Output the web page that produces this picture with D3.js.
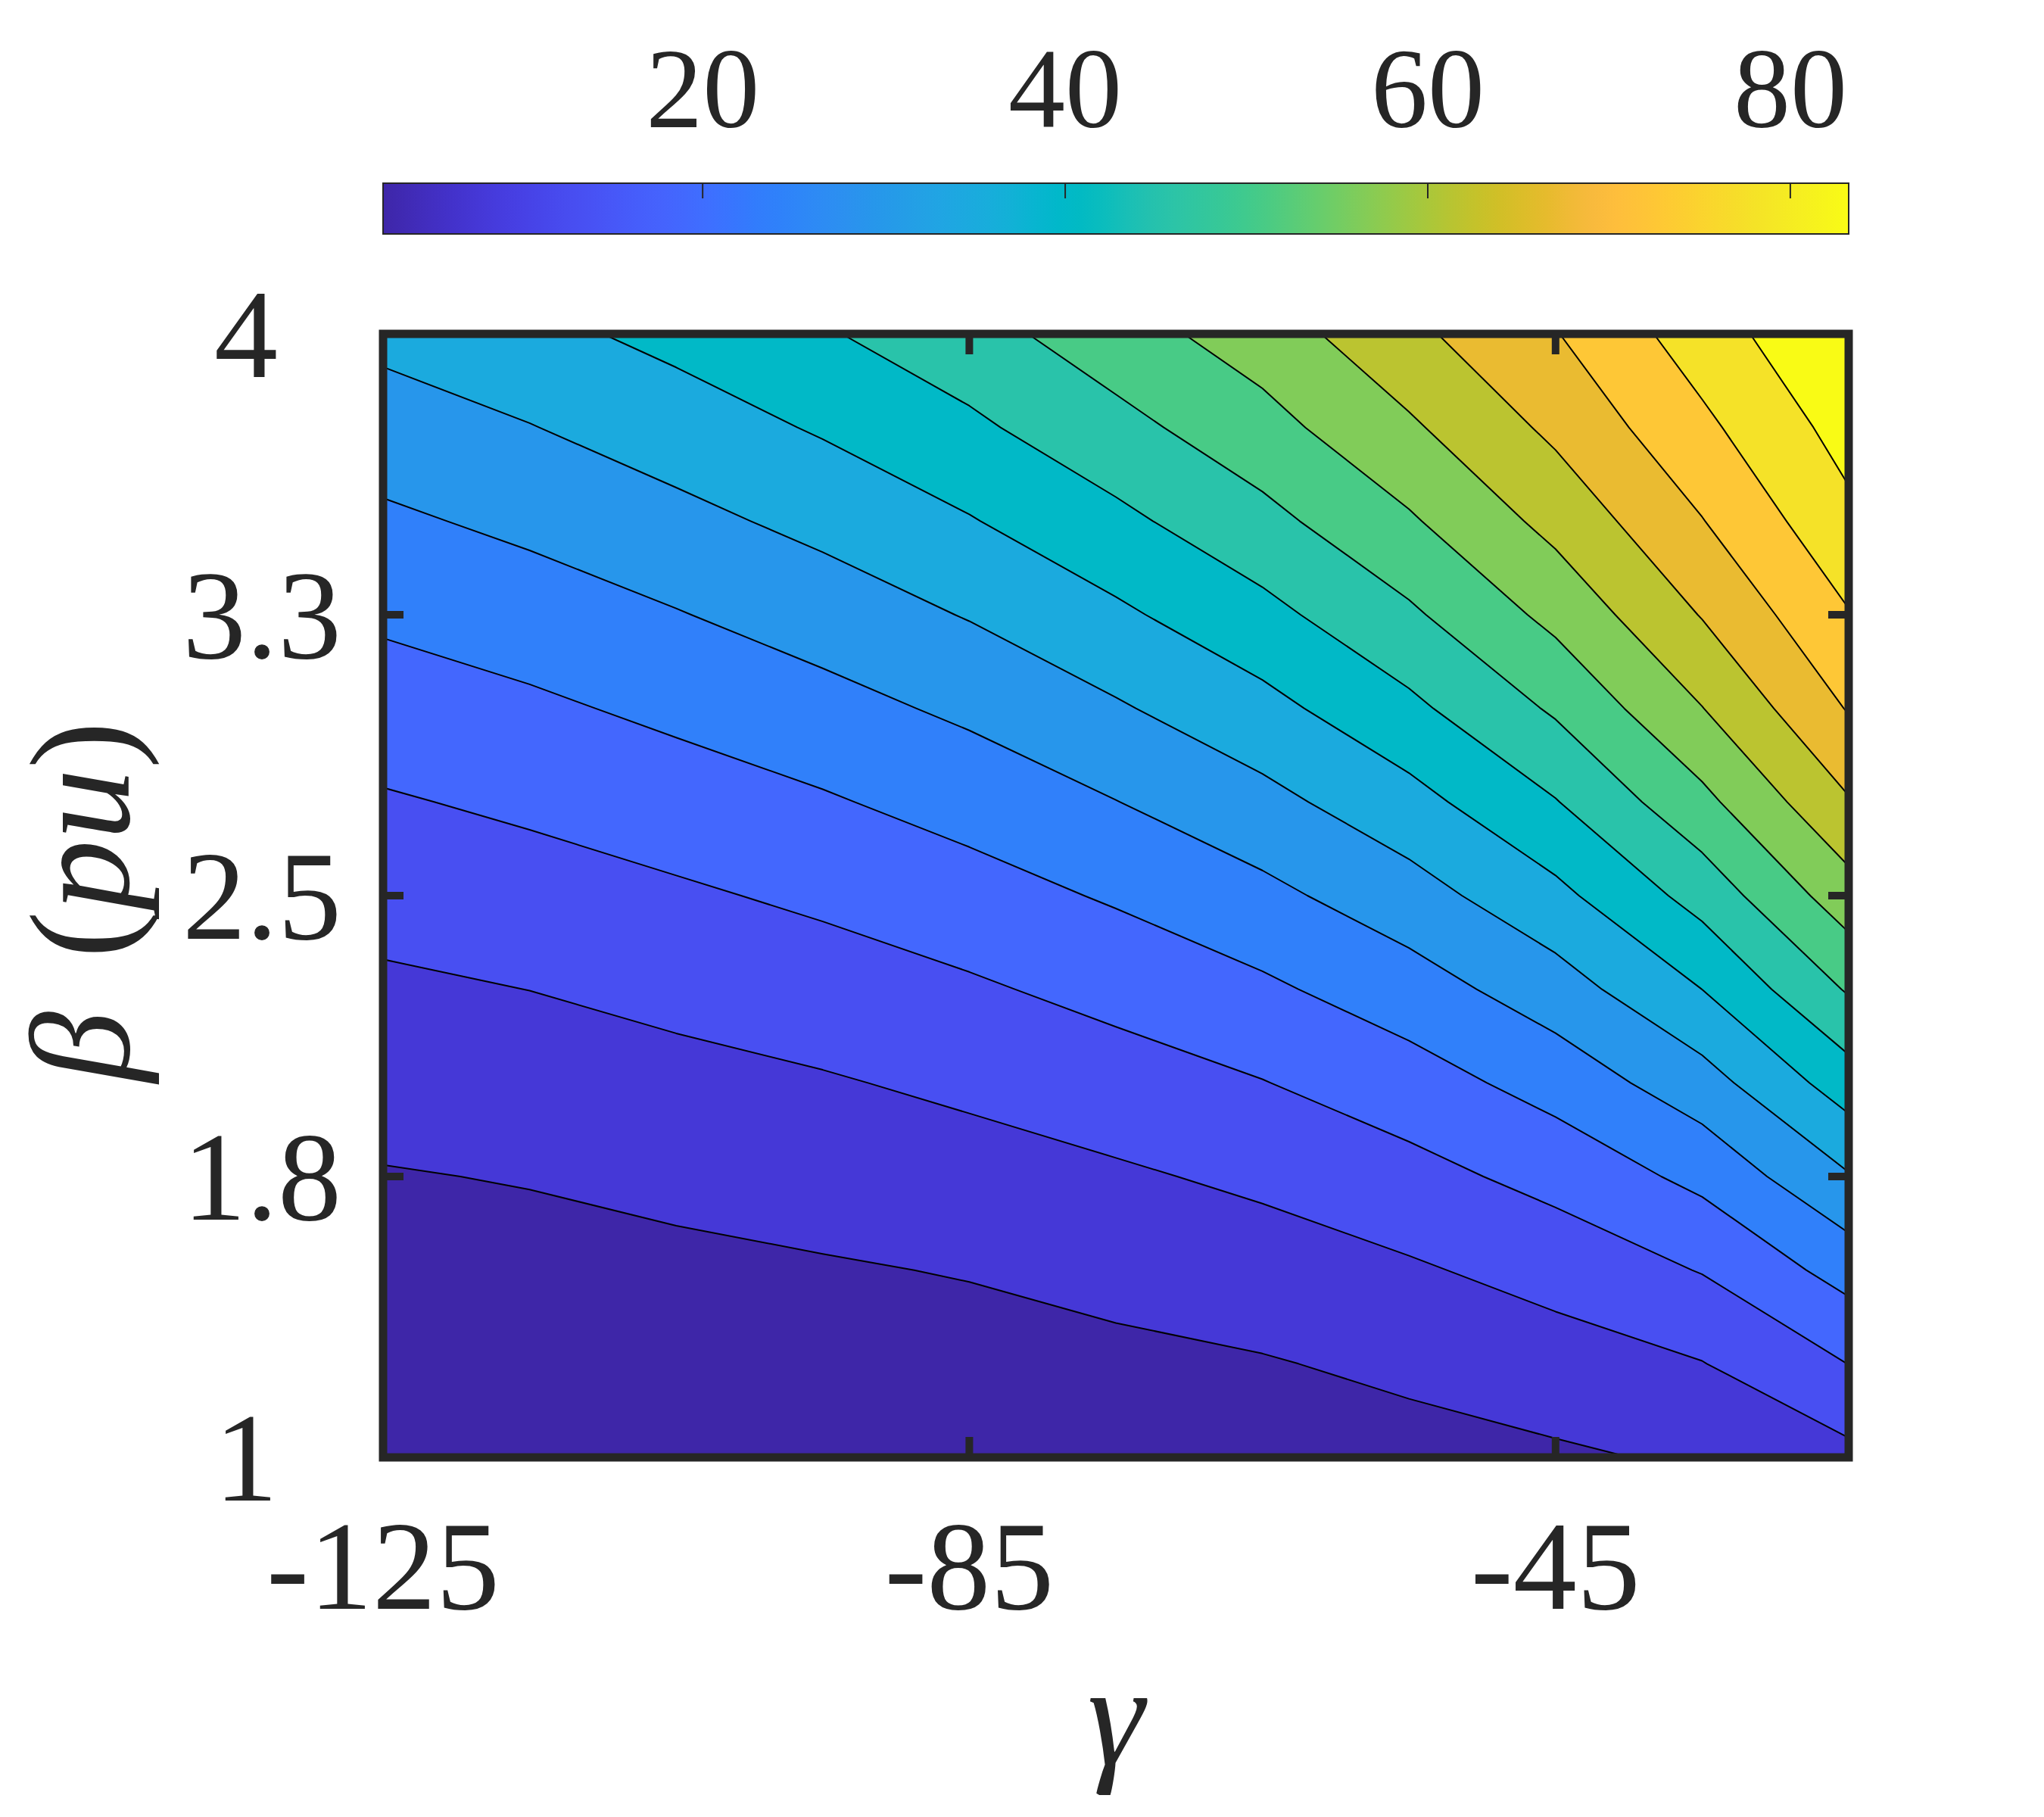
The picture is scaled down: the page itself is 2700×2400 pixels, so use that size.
<!DOCTYPE html>
<html>
<head>
<meta charset="utf-8">
<script src="https://cdn.jsdelivr.net/npm/d3@7"></script>
<style>
  html, body { margin: 0; padding: 0; background: #fff; }
  svg { display: block; }
  text { font-family: "Liberation Serif", "Times New Roman", serif; fill: #262626; }
</style>
</head>
<body>
<div class="canvas"></div>
<script>
// Grid axes
const gammaValues = [-125, -115, -105, -95, -85, -75, -65, -55, -45, -35, -25];
const betaValues = [1, 1.25, 1.5, 1.75, 2, 2.25, 2.5, 2.75, 3, 3.25, 3.5, 3.75, 4];

// One row per beta (bottom to top), one value per gamma
const zRows = [
    [2.40, 2.60, 3.00, 3.46, 3.84, 4.43, 5.08, 5.97, 7.00, 8.50, 11.70],
    [4.09, 4.38, 4.85, 5.39, 5.89, 6.61, 7.41, 8.83, 10.76, 12.97, 18.60],
    [5.78, 6.16, 6.71, 7.31, 8.03, 9.25, 10.62, 12.49, 15.05, 18.80, 26.02],
    [7.47, 8.02, 8.92, 9.90, 11.02, 12.41, 14.18, 16.77, 20.26, 25.35, 34.31],
    [9.80, 10.60, 11.60, 12.69, 14.18, 16.12, 18.36, 21.53, 26.04, 32.44, 42.91],
    [12.26, 13.19, 14.53, 15.99, 17.81, 20.16, 22.98, 26.85, 32.21, 40.12, 51.44],
    [15.05, 16.28, 17.77, 19.51, 21.76, 24.53, 27.93, 32.46, 38.69, 47.53, 59.37],
    [18.03, 19.49, 21.35, 23.37, 25.94, 29.21, 33.10, 38.23, 45.23, 54.81, 66.62],
    [21.35, 22.98, 25.10, 27.49, 30.36, 34.12, 38.44, 44.27, 51.63, 61.53, 72.82],
    [24.79, 26.68, 29.04, 31.77, 35.03, 39.13, 43.91, 49.98, 57.76, 67.34, 77.53],
    [28.39, 30.52, 33.20, 36.17, 39.76, 44.21, 49.27, 55.60, 63.32, 72.24, 81.95],
    [32.17, 34.52, 37.41, 40.66, 44.49, 49.18, 54.38, 60.83, 68.23, 76.64, 85.30],
    [36.10, 38.60, 41.60, 45.00, 48.80, 54.00, 58.90, 65.80, 72.20, 80.60, 88.60]
];

// Contour levels and colour limits
const contourLevels = [7.76, 13.15, 18.54, 23.93, 29.32, 34.71, 40.10, 45.49, 50.88, 56.27, 61.66, 67.05, 72.44, 77.83, 83.22];
const colorLimits = [2.37, 83.22];

// Ticks
const xTickValues = [-125, -85, -45];
const xTickLabels = ['-125', '-85', '-45'];
const yTickValues = [1, 1.75, 2.5, 3.25, 4];
const yTickLabels = ['1', '1.8', '2.5', '3.3', '4'];
const cbTickValues = [20, 40, 60, 80];
const cbTickLabels = ['20', '40', '60', '80'];

// parula colormap
const parula = [
    '#3e26a8', '#402ab4', '#422ec0', '#4332cb', '#4537d5', '#463cde', '#4741e5', '#4747eb',
    '#484df0', '#4852f4', '#4758f8', '#465efb', '#4563fd', '#4269fe', '#3e6fff', '#3875fe',
    '#327cfc', '#2f81fa', '#2e87f7', '#2d8cf3', '#2b91ef', '#2796eb', '#259be8', '#23a0e5',
    '#20a5e3', '#1ca9df', '#18addb', '#12b1d6', '#08b5d0', '#01b8ca', '#02bac3', '#0bbdbd',
    '#19bfb6', '#24c1ae', '#2cc4a7', '#31c69f', '#37c897', '#3fca8e', '#4acb84', '#57cc7a',
    '#64cd6f', '#72cd64', '#81cc59', '#8fcb4e', '#9dc943', '#abc739', '#b9c431', '#c5c22a',
    '#d1bf27', '#dcbd29', '#e6bb2d', '#f0ba36', '#f8ba3d', '#febe3c', '#fec338', '#fec934',
    '#fccf30', '#fad62d', '#f7dc2a', '#f5e327', '#f5e924', '#f6ef20', '#f7f51b', '#f9fb15'
];

const dims = {
    svgWidth: 2700,
    svgHeight: 2400,
    left: 506,
    right: 2442,
    top: 441,
    bottom: 1925,
    cbTop: 242,
    cbHeight: 67
};
const ink = '#262626';

const svg = d3.select('.canvas')
    .append('svg')
    .attr('width', dims.svgWidth)
    .attr('height', dims.svgHeight);

svg.append('rect')
    .attr('width', dims.svgWidth)
    .attr('height', dims.svgHeight)
    .attr('fill', '#fff');

// Scales
const x = d3.scaleLinear().domain([-125, -25]).range([dims.left, dims.right]);
const y = d3.scaleLinear().domain([1, 4]).range([dims.bottom, dims.top]);
const cb = d3.scaleLinear().domain(colorLimits).range([dims.left, dims.right]);

const colorScale = d3.scaleLinear()
    .domain(parula.map((c, i) => colorLimits[0] + i * (colorLimits[1] - colorLimits[0]) / (parula.length - 1)))
    .range(parula)
    .clamp(true);

// Contours
const nx = gammaValues.length;
const ny = betaValues.length;
const values = zRows.flat();

const bands = d3.contours()
    .size([nx, ny])
    .thresholds(contourLevels)(values);

// grid coordinates -> pixels (d3 puts sample i at i + 0.5)
const gx = d3.scaleLinear().domain([0.5, nx - 0.5]).range([x(gammaValues[0]), x(gammaValues[nx - 1])]);
const gy = d3.scaleLinear().domain([0.5, ny - 0.5]).range([y(betaValues[0]), y(betaValues[ny - 1])]);

const path = d3.geoPath(d3.geoTransform({
    point: function(px, py) { this.stream.point(gx(px), gy(py)); }
}));

const defs = svg.append('defs');
defs.append('clipPath')
    .attr('id', 'plot-clip')
    .append('rect')
    .attr('x', dims.left)
    .attr('y', dims.top)
    .attr('width', dims.right - dims.left)
    .attr('height', dims.bottom - dims.top);

const plot = svg.append('g').attr('clip-path', 'url(#plot-clip)');

plot.append('rect')
    .attr('x', dims.left)
    .attr('y', dims.top)
    .attr('width', dims.right - dims.left)
    .attr('height', dims.bottom - dims.top)
    .attr('fill', colorScale(colorLimits[0]));

plot.selectAll('.band')
    .data(bands)
    .enter()
    .append('path')
    .attr('class', 'band')
    .attr('d', path)
    .attr('fill', d => colorScale(d.value))
    .attr('stroke', '#000')
    .attr('stroke-width', 2)
    .attr('stroke-linejoin', 'round');

// Axes box and ticks
const tickLen = 27;
const tickWidth = 10;

svg.append('g')
    .selectAll('g')
    .data(xTickValues)
    .enter()
    .append('g')
    .each(function(v) {
        const g = d3.select(this);
        g.append('line')
            .attr('x1', x(v)).attr('x2', x(v))
            .attr('y1', dims.bottom).attr('y2', dims.bottom - tickLen);
        g.append('line')
            .attr('x1', x(v)).attr('x2', x(v))
            .attr('y1', dims.top).attr('y2', dims.top + tickLen);
    })
    .selectAll('line')
    .attr('stroke', ink)
    .attr('stroke-width', tickWidth);

svg.append('g')
    .selectAll('g')
    .data(yTickValues)
    .enter()
    .append('g')
    .each(function(v) {
        const g = d3.select(this);
        g.append('line')
            .attr('x1', dims.left).attr('x2', dims.left + tickLen)
            .attr('y1', y(v)).attr('y2', y(v));
        g.append('line')
            .attr('x1', dims.right).attr('x2', dims.right - tickLen)
            .attr('y1', y(v)).attr('y2', y(v));
    })
    .selectAll('line')
    .attr('stroke', ink)
    .attr('stroke-width', tickWidth);

svg.append('rect')
    .attr('x', dims.left)
    .attr('y', dims.top)
    .attr('width', dims.right - dims.left)
    .attr('height', dims.bottom - dims.top)
    .attr('fill', 'none')
    .attr('stroke', ink)
    .attr('stroke-width', 11);

// Tick labels
svg.append('g')
    .selectAll('text')
    .data(xTickValues)
    .enter()
    .append('text')
    .attr('x', d => x(d))
    .attr('y', 2125)
    .attr('text-anchor', 'middle')
    .attr('font-size', 168)
    .text((d, i) => xTickLabels[i]);

svg.append('g')
    .selectAll('text')
    .data(yTickValues)
    .enter()
    .append('text')
    .attr('x', 451)
    .attr('y', d => y(d) + 57)
    .attr('text-anchor', 'end')
    .attr('font-size', 168)
    .attr('xml:space', 'preserve')
    .style('white-space', 'pre')
    .text((d, i) => yTickLabels[i].padEnd(3));

// Axis labels
svg.append('text')
    .attr('x', (dims.left + dims.right) / 2)
    .attr('y', 2330)
    .attr('text-anchor', 'middle')
    .attr('font-size', 190)
    .attr('font-style', 'italic')
    .text('γ');

const yLabel = svg.append('text')
    .attr('transform', 'translate(170, 1191) rotate(-90)')
    .attr('text-anchor', 'middle')
    .attr('font-size', 188);
yLabel.append('tspan').attr('font-style', 'italic').text('β');
yLabel.append('tspan').attr('dx', 70).text('(');
yLabel.append('tspan').attr('font-style', 'italic').text('pu');
yLabel.append('tspan').text(')');

// Colorbar
const grad = defs.append('linearGradient')
    .attr('id', 'cb-grad')
    .attr('x1', '0%').attr('x2', '100%')
    .attr('y1', '0%').attr('y2', '0%');

grad.selectAll('stop')
    .data(parula)
    .enter()
    .append('stop')
    .attr('offset', (d, i) => (i / (parula.length - 1) * 100) + '%')
    .attr('stop-color', d => d);

svg.append('rect')
    .attr('x', dims.left)
    .attr('y', dims.cbTop)
    .attr('width', dims.right - dims.left)
    .attr('height', dims.cbHeight)
    .attr('fill', 'url(#cb-grad)')
    .attr('stroke', ink)
    .attr('stroke-width', 2);

svg.append('g')
    .selectAll('line')
    .data(cbTickValues)
    .enter()
    .append('line')
    .attr('x1', d => cb(d)).attr('x2', d => cb(d))
    .attr('y1', dims.cbTop).attr('y2', dims.cbTop + 20)
    .attr('stroke', ink)
    .attr('stroke-width', 2);

svg.append('g')
    .selectAll('text')
    .data(cbTickValues)
    .enter()
    .append('text')
    .attr('x', d => cb(d))
    .attr('y', 168)
    .attr('text-anchor', 'middle')
    .attr('font-size', 150)
    .text((d, i) => cbTickLabels[i]);
</script>
</body>
</html>
